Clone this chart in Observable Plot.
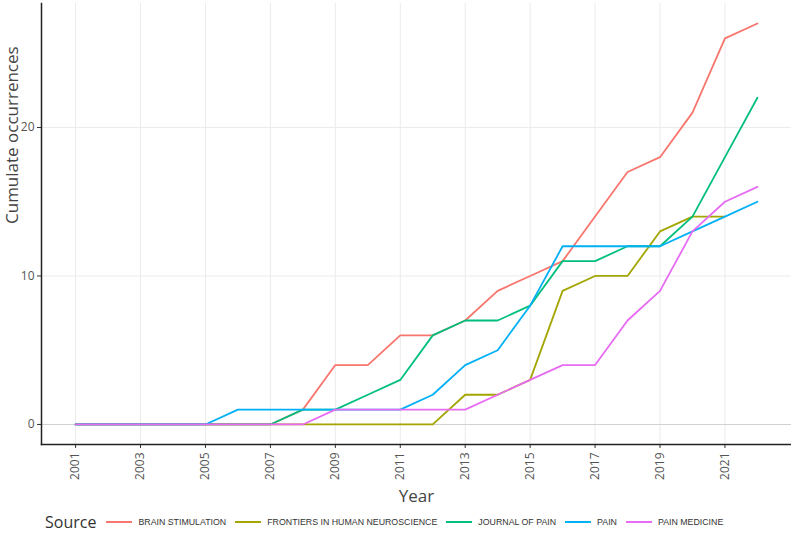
<!DOCTYPE html>
<html>
<head>
<meta charset="utf-8">
<script src="https://cdn.jsdelivr.net/npm/d3@7"></script>
<script src="https://cdn.jsdelivr.net/npm/@observablehq/plot@0.6"></script>
<style>
  html, body { margin: 0; padding: 0; background: white; overflow: hidden; }
  #chart svg { display: block; }
  #legend { display: flex; align-items: center; height: 22px; padding-left: 45px; box-sizing: border-box; width: 791px; margin-top: 1px; }
  #legend span { line-height: 1; }
  #legend .title { font-family: "Open Sans", sans-serif; font-size: 16px; color: #333; margin-right: 10px; }
  #legend .key { width: 26px; height: 2px; margin-right: 6px; }
  #legend .lab { font-family: "Liberation Sans", Arial, sans-serif; font-size: 8.8px; color: #333; margin-right: 9px; }
</style>
</head>
<body>
<div id="chart"></div>
<div id="legend"></div>
<script>
const years = [2001, 2002, 2003, 2004, 2005, 2006, 2007, 2008, 2009, 2010, 2011, 2012, 2013, 2014, 2015, 2016, 2017, 2018, 2019, 2020, 2021, 2022];
const xTicks = [2001, 2003, 2005, 2007, 2009, 2011, 2013, 2015, 2017, 2019, 2021];
const yTicks = [0, 10, 20];
const sources = ["BRAIN STIMULATION", "FRONTIERS IN HUMAN NEUROSCIENCE", "JOURNAL OF PAIN", "PAIN", "PAIN MEDICINE"];
const colors = ["#F8766D", "#A3A500", "#00BF7D", "#00B0F6", "#E76BF3"];

const brainStimulation = [0, 0, 0, 0, 0, 0, 0, 1, 4, 4, 6, 6, 7, 9, 10, 11, 14, 17, 18, 21, 26, 27];
const frontiers        = [0, 0, 0, 0, 0, 0, 0, 0, 0, 0, 0, 0, 2, 2, 3, 9, 10, 10, 13, 14, 14];
const journalOfPain    = [0, 0, 0, 0, 0, 0, 0, 1, 1, 2, 3, 6, 7, 7, 8, 11, 11, 12, 12, 14, 18, 22];
const pain             = [0, 0, 0, 0, 0, 1, 1, 1, 1, 1, 1, 2, 4, 5, 8, 12, 12, 12, 12, 13, 14, 15];
const painMedicine     = [0, 0, 0, 0, 0, 0, 0, 0, 1, 1, 1, 1, 1, 2, 3, 4, 4, 7, 9, 13, 15, 16];

const seriesValues = [brainStimulation, frontiers, journalOfPain, pain, painMedicine];
const data = [];
seriesValues.forEach((vals, i) => {
  vals.forEach((v, j) => data.push({source: sources[i], year: years[j], value: v}));
});

const chart = Plot.plot({
  width: 791,
  height: 510,
  marginLeft: 41,
  marginRight: 0,
  marginTop: 3,
  marginBottom: 66,
  style: {fontFamily: "Open Sans, sans-serif", background: "white", overflow: "visible"},
  x: {domain: [1999.95, 2023.05]},
  y: {domain: [-1.35, 28.35]},
  color: {domain: sources, range: colors},
  marks: [
    Plot.gridX(xTicks, {stroke: "#ebebeb", strokeOpacity: 1}),
    Plot.gridY([10, 20], {stroke: "#ebebeb", strokeOpacity: 1}),
    Plot.ruleY([0], {stroke: "#cfcfcf"}),
    Plot.axisX({ticks: xTicks, tickFormat: d => String(d), tickRotate: -90, tickSize: 4, tickPadding: 4, fontSize: 12, fill: "#555", stroke: "#333", label: null}),
    Plot.axisY({ticks: yTicks, tickSize: 4, tickPadding: 3, fontSize: 12, fill: "#555", stroke: "#333", label: null}),
    Plot.frame({anchor: "left", stroke: "#222", strokeWidth: 1.5}),
    Plot.frame({anchor: "bottom", stroke: "#222", strokeWidth: 1.5}),
    Plot.line(data, {x: "year", y: "value", stroke: "source", z: "source", strokeWidth: 1.8}),
    Plot.text(["Year"], {frameAnchor: "bottom", dy: 57, fontSize: 17, fill: "#444"}),
    Plot.text(["Cumulate occurrences"], {frameAnchor: "left", dx: -29, rotate: -90, fontSize: 17, fill: "#444"})
  ]
});
document.getElementById("chart").appendChild(chart);

const legend = document.getElementById("legend");
const t = document.createElement("span");
t.className = "title";
t.textContent = "Source";
legend.appendChild(t);
sources.forEach((s, i) => {
  const k = document.createElement("span");
  k.className = "key";
  k.style.background = colors[i];
  legend.appendChild(k);
  const l = document.createElement("span");
  l.className = "lab";
  l.textContent = s;
  legend.appendChild(l);
});
</script>
</body>
</html>
